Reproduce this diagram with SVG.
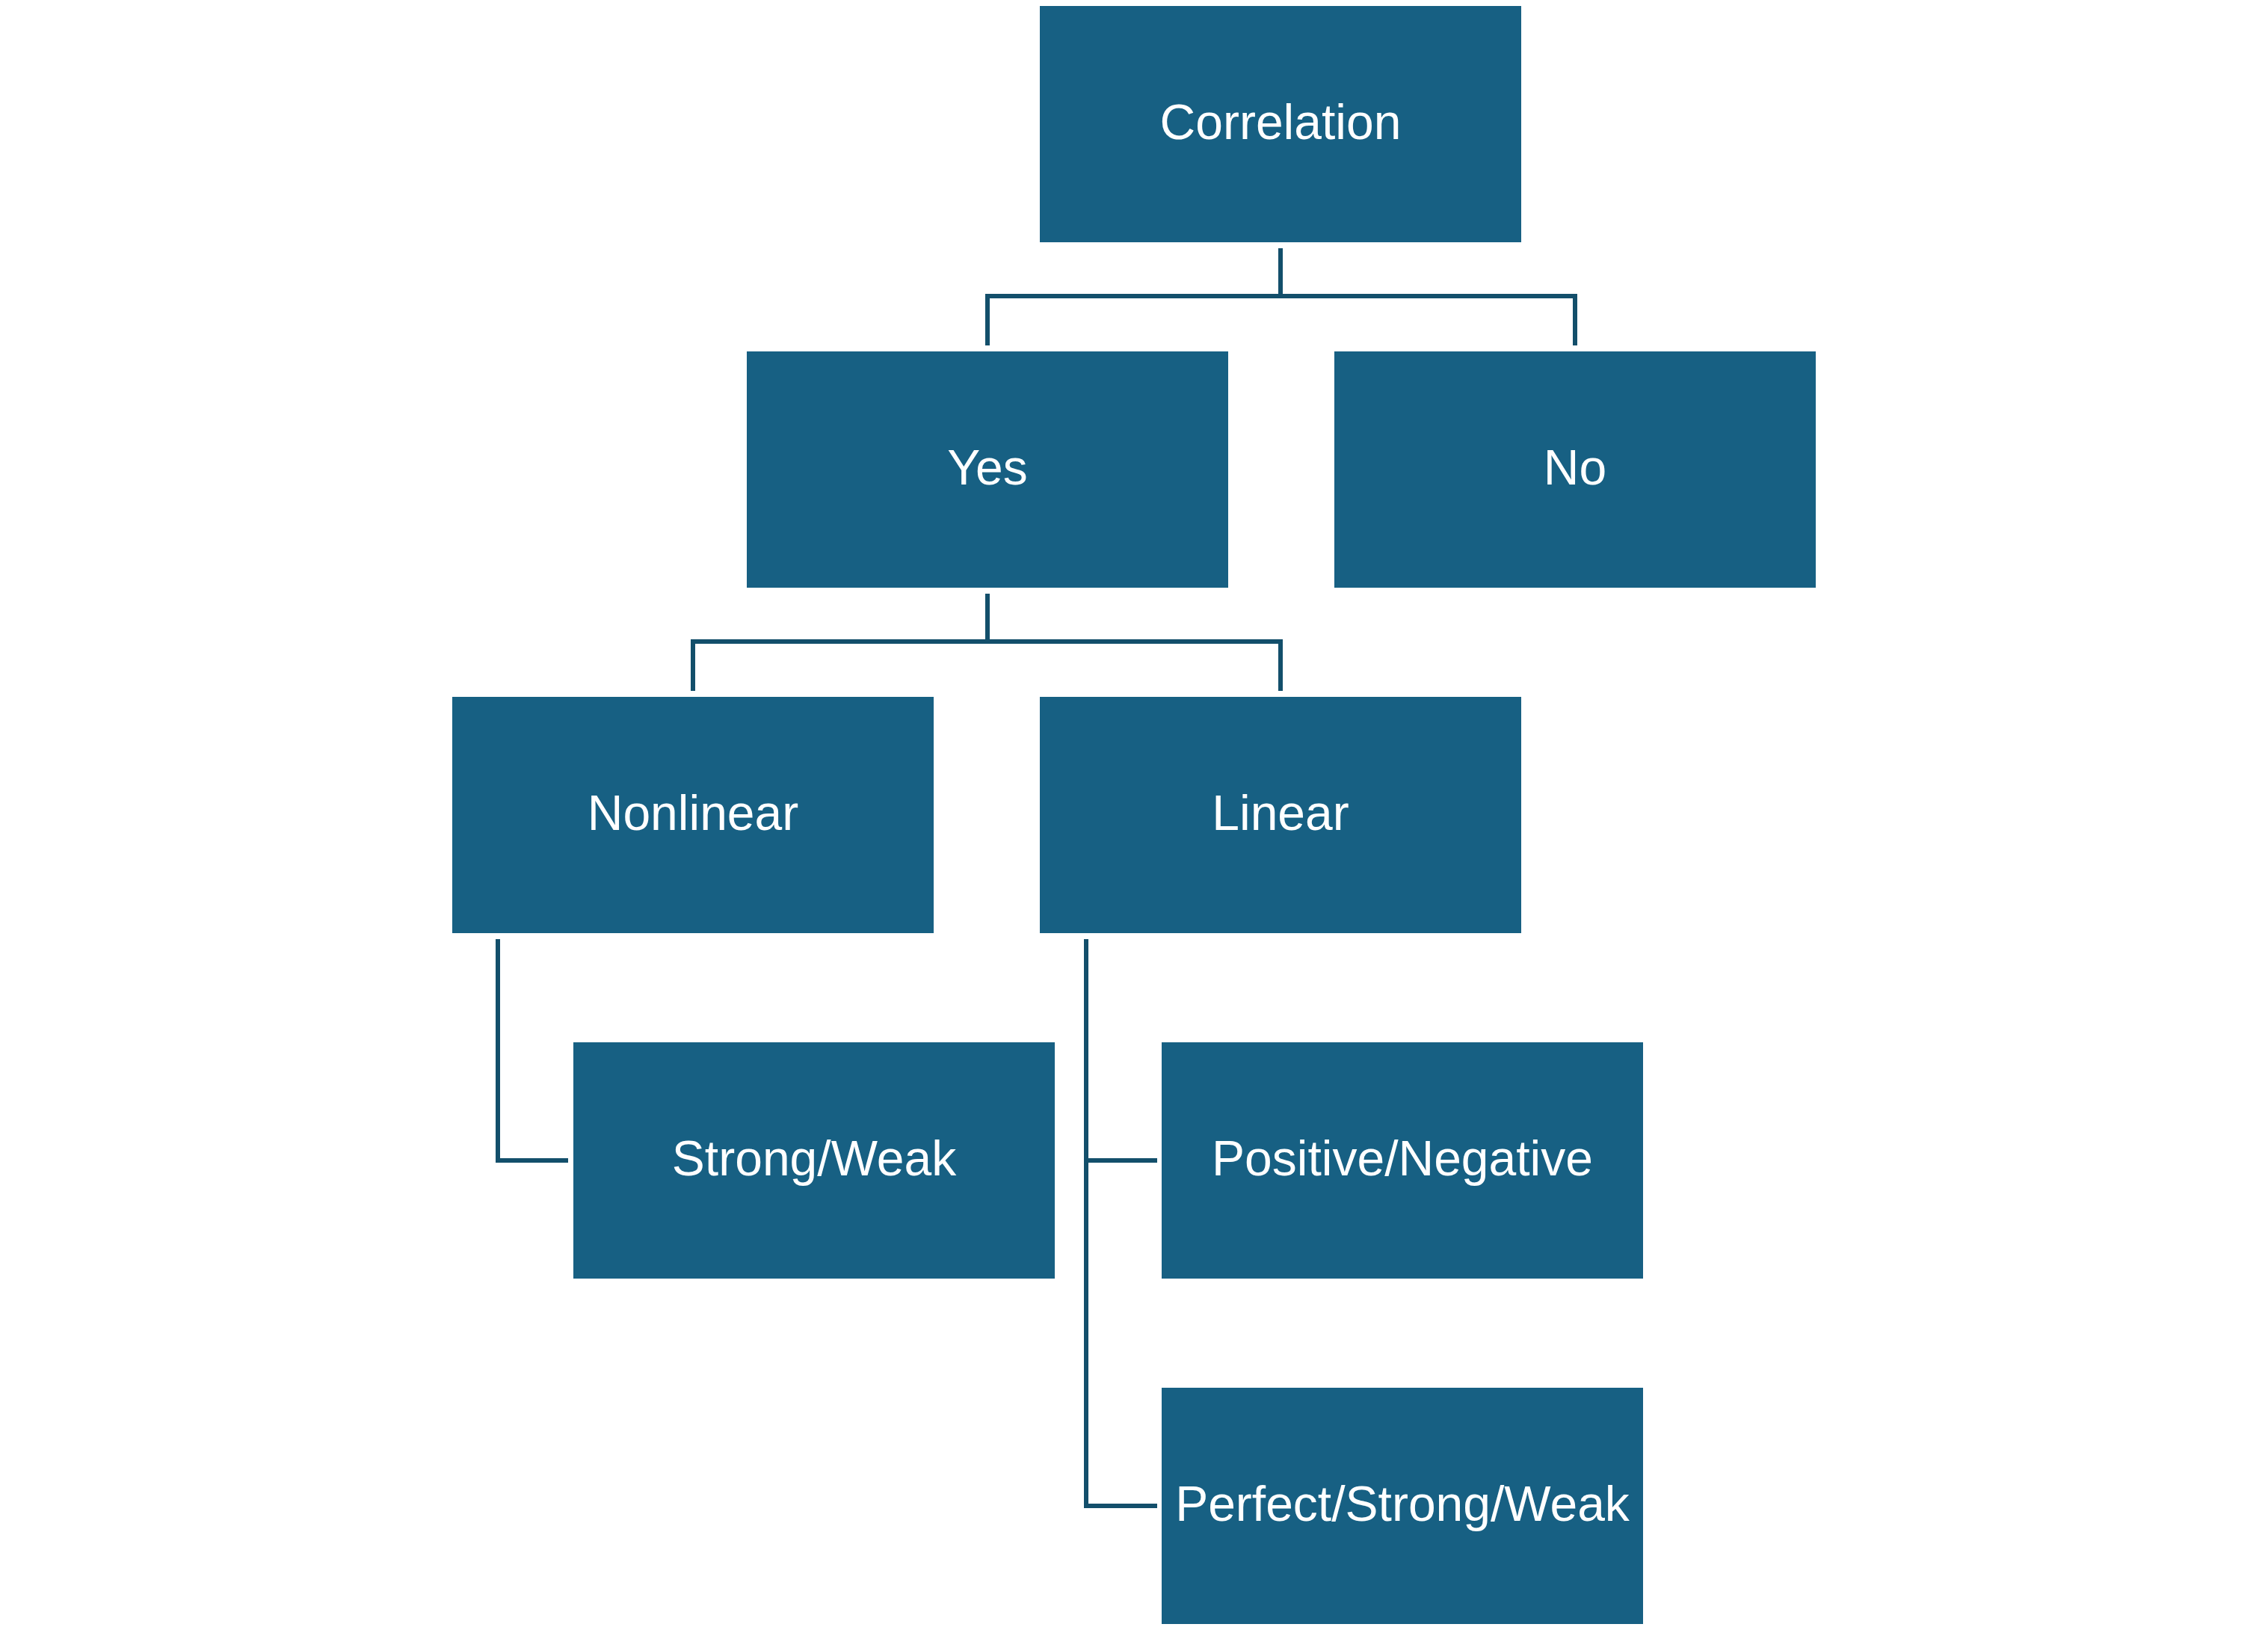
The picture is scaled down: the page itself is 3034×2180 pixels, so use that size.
<svg xmlns="http://www.w3.org/2000/svg" width="3034" height="2180" viewBox="0 0 3034 2180">
<style>
.box{fill:#176083}
.lbl{fill:#ffffff;font-family:"Liberation Sans",Arial,sans-serif;font-size:66px;text-anchor:middle}
.con{fill:none;stroke:#134f6b;stroke-width:6}
</style>
<rect width="3034" height="2180" fill="#ffffff"/>
<g id="connectors">
<path class="con" d="M1713 332 V396"/>
<path class="con" d="M1321 462 V396 H2107 V462"/>
<path class="con" d="M1321 794 V858"/>
<path class="con" d="M927 924 V858 H1713 V924"/>
<path class="con" d="M666 1256 V1552 H760"/>
<path class="con" d="M1453 1256 V2014 H1548"/>
<path class="con" d="M1453 1552 H1548"/>
</g>
<g id="correlation"><rect class="box" x="1391" y="8" width="644" height="316"/><text class="lbl" x="1713" y="186">Correlation</text></g>
<g id="yes"><rect class="box" x="999" y="470" width="644" height="316"/><text class="lbl" x="1321" y="648">Yes</text></g>
<g id="no"><rect class="box" x="1785" y="470" width="644" height="316"/><text class="lbl" x="2107" y="648">No</text></g>
<g id="nonlinear"><rect class="box" x="605" y="932" width="644" height="316"/><text class="lbl" x="927" y="1110">Nonlinear</text></g>
<g id="linear"><rect class="box" x="1391" y="932" width="644" height="316"/><text class="lbl" x="1713" y="1110">Linear</text></g>
<g id="strong-weak"><rect class="box" x="767" y="1394" width="644" height="316"/><text class="lbl" x="1089" y="1572">Strong/Weak</text></g>
<g id="positive-negative"><rect class="box" x="1554" y="1394" width="644" height="316"/><text class="lbl" x="1876" y="1572">Positive/Negative</text></g>
<g id="perfect-strong-weak"><rect class="box" x="1554" y="1856" width="644" height="316"/><text class="lbl" x="1876" y="2034">Perfect/Strong/Weak</text></g>
</svg>
